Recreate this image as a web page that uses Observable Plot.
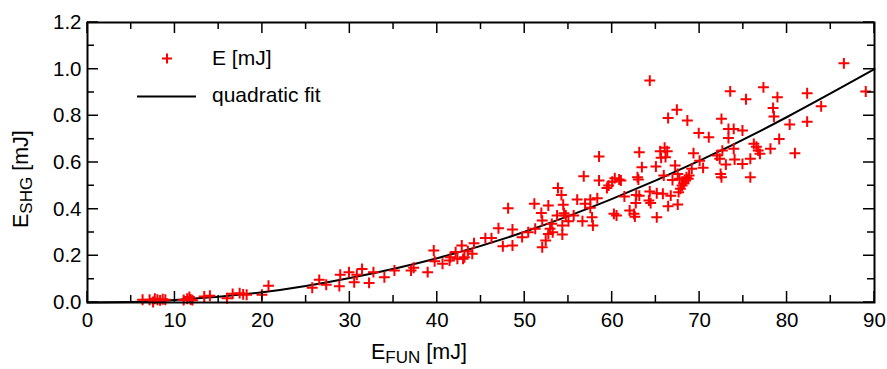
<!DOCTYPE html>
<html><head><meta charset="utf-8">
<script src="https://cdn.jsdelivr.net/npm/d3@7"></script>
<script src="https://cdn.jsdelivr.net/npm/@observablehq/plot@0.6"></script>
<style>body{margin:0;background:#fff}</style>
</head><body><div id="chart"></div>
<script>
// Scatter data: E_FUN [mJ] and E_SHG [mJ]
const eFun = [6.3,7.1,7.5,7.7,8.0,8.3,8.6,8.9,11.0,11.4,11.65,11.8,12.0,13.35,14.0,15.95,16.6,17.4,17.8,18.2,19.95,20.7,
25.7,26.5,27.3,28.8,28.9,29.9,30.5,30.8,31.4,32.2,32.7,33.95,35.1,37.0,37.3,38.9,39.6,39.7,40.6,41.4,41.5,42.1,42.3,42.8,42.95,43.1,43.5,44.0,44.2,
45.5,46.2,47.0,47.5,48.1,48.6,48.6,49.7,50.4,51.1,51.2,51.9,52.0,52.0,52.4,52.7,52.7,52.9,53.1,53.2,53.7,53.8,54.2,54.3,54.3,54.4,54.5,54.7,55.0,55.6,56.0,56.6,56.75,56.9,57.5,57.5,57.7,57.8,58.3,58.5,58.5,59.4,59.6,60.0,60.3,60.2,60.5,60.8,
61.0,61.4,62.0,62.5,62.6,62.7,62.75,62.9,63.0,63.1,63.1,63.4,64.2,64.3,64.3,64.4,65.0,65.1,65.1,65.5,65.6,65.8,65.9,66.0,66.1,66.3,66.4,66.4,66.7,66.9,67.2,67.4,67.5,67.5,67.6,67.7,67.8,68.0,68.2,68.4,68.5,68.6,68.7,68.8,69.1,69.3,69.9,70.0,70.4,71.05,72.0,72.3,72.4,72.5,72.5,72.6,73.0,73.3,73.3,73.5,73.9,73.9,74.0,74.9,74.9,75.3,75.8,75.8,76.2,76.5,76.7,76.9,
77.3,78.1,78.4,78.5,78.9,79.1,80.3,80.9,82.3,82.3,83.9,86.5,89.0];
const eShg = [0.012,0.012,0.002,0.016,0.012,0.009,0.014,0.012,0.011,0.016,0.024,0.013,0.010,0.026,0.029,0.018,0.037,0.040,0.035,0.033,0.033,0.072,
0.063,0.097,0.076,0.070,0.119,0.130,0.087,0.119,0.144,0.084,0.130,0.108,0.137,0.137,0.149,0.130,0.223,0.177,0.166,0.180,0.194,0.216,0.187,0.244,0.187,0.194,0.220,0.209,0.254,
0.276,0.276,0.318,0.241,0.404,0.313,0.244,0.280,0.301,0.423,0.316,0.384,0.351,0.237,0.266,0.294,0.416,0.316,0.337,0.301,0.373,0.491,0.461,0.330,0.291,0.419,0.383,0.373,0.348,0.373,0.441,0.348,0.541,0.423,0.441,0.406,0.365,0.330,0.447,0.626,0.523,0.491,0.501,0.518,0.533,0.380,0.373,0.527,
0.523,0.454,0.394,0.380,0.368,0.426,0.461,0.537,0.527,0.644,0.458,0.580,0.437,0.476,0.951,0.426,0.583,0.365,0.468,0.648,0.620,0.466,0.544,0.663,0.623,0.648,0.791,0.413,0.458,0.525,0.587,0.826,0.420,0.551,0.473,0.530,0.487,0.501,0.511,0.523,0.537,0.780,0.530,0.544,0.573,0.640,0.726,0.608,0.577,0.708,0.630,0.616,0.551,0.537,0.787,0.651,0.591,0.705,0.744,0.905,0.744,0.659,0.613,0.737,0.594,0.871,0.616,0.537,0.680,0.668,0.651,0.637,
0.922,0.659,0.834,0.797,0.880,0.701,0.763,0.640,0.897,0.775,0.841,1.025,0.904];
// Quadratic fit curve
const fitX = [0,5,10,20,30,40,50,60,70,80,90];
const fitY = [0,0.002,0.011,0.044,0.105,0.19,0.303,0.444,0.608,0.795,1.0];
// Ticks
const xMajor = [0,10,20,30,40,50,60,70,80,90];
const xMinor = [5,15,25,35,45,55,65,75,85];
const yMajor = [0,0.2,0.4,0.6,0.8,1.0,1.2];
const yMinor = [0.1,0.3,0.5,0.7,0.9,1.1];
const legendLabels = ["E [mJ]", "quadratic fit"];

const W = 887, H = 369, mL = 87, mR = 13, mT = 22, mB = 67;
const FONT = "'Liberation Sans', Arial, Helvetica, sans-serif";
const pts = eFun.map((x, i) => ({x, y: eShg[i]}));
const fit = fitX.map((x, i) => ({x, y: fitY[i]}));
const MAJ = 11, MIN = 7;

const plot = Plot.plot({
  width: W, height: H,
  marginLeft: mL, marginRight: mR, marginTop: mT, marginBottom: mB,
  style: {fontFamily: FONT},
  x: {domain: [0, 90]},
  y: {domain: [0, 1.2]},
  marks: [
    Plot.line(fit, {x: "x", y: "y", stroke: "black", strokeWidth: 2, curve: "natural"}),
    Plot.dot(pts, {x: "x", y: "y", symbol: "plus", stroke: "#ff0000", strokeWidth: 2, r: 3.6}),
    Plot.axisX({ticks: xMajor, tickSize: 0, tickPadding: 10, label: null, tickFormat: d => String(d), fontSize: 20.5, fill: "black"}),
    Plot.axisY({ticks: yMajor, tickSize: 0, tickPadding: 6, label: null, tickFormat: d3.format(".1f"), fontSize: 20.5, fill: "black"}),
    Plot.frame({stroke: "black", strokeWidth: 2})
  ]
});
document.getElementById("chart").appendChild(plot);

const svg = d3.select(plot);
// Inward ticks on all four sides, positioned with Plot's own scales
const xs = plot.scale("x"), ys = plot.scale("y");
const xl = xs.apply(0), xr = xs.apply(90), yb = ys.apply(0), yt0 = ys.apply(1.2);
let dPath = "";
for (const [vals, len] of [[xMajor, MAJ], [xMinor, MIN]]) {
  for (const v of vals) {
    const px = xs.apply(v);
    dPath += `M${px},${yb}v${-len}M${px},${yt0}v${len}`;
  }
}
for (const [vals, len] of [[yMajor, MAJ], [yMinor, MIN]]) {
  for (const v of vals) {
    const py = ys.apply(v);
    dPath += `M${xl},${py}h${len}M${xr},${py}h${-len}`;
  }
}
svg.append("path").attr("d", dPath).attr("stroke", "#000").attr("stroke-width", 1.5).attr("fill", "none");

const g = svg.append("g").attr("font-family", FONT).attr("fill", "#000").attr("text-anchor", "start");
// Legend
const lg = g.append("g");
lg.append("path").attr("d", "M162,58.5h10M167,53.5v10").attr("stroke", "#ff0000").attr("stroke-width", 2);
lg.append("text").attr("x", 212).attr("y", 65).attr("font-size", 21).text(legendLabels[0]);
lg.append("line").attr("x1", 137).attr("x2", 196).attr("y1", 96.5).attr("y2", 96.5).attr("stroke", "#000").attr("stroke-width", 2);
lg.append("text").attr("x", 212).attr("y", 102).attr("font-size", 21).text(legendLabels[1]);
// Axis titles
const xt = g.append("text").attr("x", 371).attr("y", 359).attr("font-size", 21.5);
xt.append("tspan").text("E");
xt.append("tspan").attr("font-size", 17).attr("dy", 4).text("FUN");
xt.append("tspan").attr("dy", -4).text(" [mJ]");
const yt = g.append("text").attr("transform", "translate(28,228) rotate(-90)").attr("font-size", 21.5);
yt.append("tspan").text("E");
yt.append("tspan").attr("font-size", 17).attr("dy", 4).text("SHG");
yt.append("tspan").attr("dy", -4).text(" [mJ]");
</script>
</body></html>
